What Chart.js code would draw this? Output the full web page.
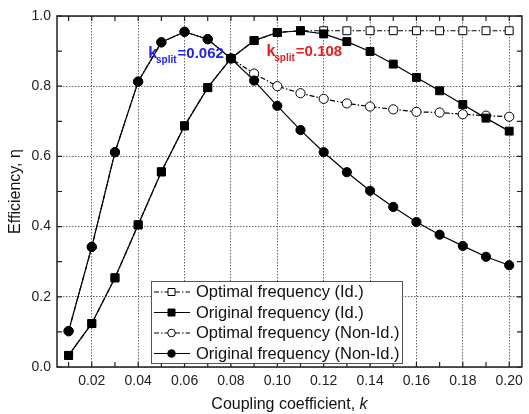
<!DOCTYPE html>
<html>
<head>
<meta charset="utf-8">
<script src="https://cdn.jsdelivr.net/npm/chart.js@4/dist/chart.umd.min.js"></script>
<style>
  html, body { margin: 0; padding: 0; background: #fff; }
  #wrap { width: 529px; height: 414px; }
</style>
</head>
<body>
<div id="wrap"><canvas id="chart" width="529" height="414"></canvas></div>
<script>
// Data
const kValues = [0.01, 0.02, 0.03, 0.04, 0.05, 0.06, 0.07, 0.08, 0.09, 0.10,
                 0.11, 0.12, 0.13, 0.14, 0.15, 0.16, 0.17, 0.18, 0.19, 0.20];
const origId = [0.033, 0.124, 0.254, 0.405, 0.556, 0.687, 0.796, 0.879, 0.930, 0.953,
                0.958, 0.949, 0.927, 0.899, 0.863, 0.825, 0.787, 0.748, 0.709, 0.672];
const optId = [0.033, 0.124, 0.254, 0.405, 0.556, 0.687, 0.796, 0.879, 0.930, 0.953,
               0.958, 0.958, 0.958, 0.958, 0.958, 0.958, 0.958, 0.958, 0.958, 0.958];
const origNonId = [0.102, 0.342, 0.612, 0.813, 0.925, 0.955, 0.934, 0.879, 0.816, 0.744,
                   0.675, 0.612, 0.555, 0.502, 0.456, 0.413, 0.377, 0.345, 0.314, 0.290];
const optNonId = [0.102, 0.342, 0.612, 0.813, 0.925, 0.955, 0.934, 0.879, 0.836, 0.800,
                  0.780, 0.764, 0.751, 0.742, 0.734, 0.727, 0.725, 0.720, 0.716, 0.713];

const legendLabels = ['Optimal frequency (Id.)', 'Original frequency (Id.)',
                      'Optimal frequency (Non-Id.)', 'Original frequency (Non-Id.)'];
const yTicks = [0, 0.1, 0.2, 0.3, 0.4, 0.5, 0.6, 0.7, 0.8, 0.9, 1.0];

const FONT = 'Arial, "Liberation Sans", sans-serif';
const dashDot = [5, 2, 1.5, 2];

function pts(ys) {
    return kValues.map((k, i) => ({ x: k, y: ys[i] }));
}

function series(label, ys, style, filled, dashed, order) {
    return {
        label: label,
        data: pts(ys),
        borderColor: '#000',
        borderWidth: 1.2,
        borderDash: dashed ? dashDot : [],
        pointStyle: style,
        pointRadius: style === 'rect' ? 5.6 : 4.6,
        pointBorderWidth: 1,
        pointBorderColor: '#000',
        pointBackgroundColor: filled ? '#000' : '#fff',
        tension: 0,
        order: order
    };
}

const datasets = [
    series(legendLabels[0], optId, 'rect', false, true, 3),
    series(legendLabels[1], origId, 'rect', true, false, 1),
    series(legendLabels[2], optNonId, 'circle', false, true, 2),
    series(legendLabels[3], origNonId, 'circle', true, false, 0)
];

function isMajorX(v) { return Math.round(v * 100) % 2 === 0; }
function isMajorY(v) { return Math.round(v * 10) % 2 === 0; }

// frame, inward ticks, titles, annotations and legend
const decor = {
    id: 'decor',
    afterDatasetsDraw(chart) {
        const ctx = chart.ctx;
        const a = chart.chartArea;
        const xs = chart.scales.x, ys = chart.scales.y;
        ctx.save();

        // frame
        ctx.strokeStyle = '#222';
        ctx.lineWidth = 1.5;
        ctx.strokeRect(a.left, a.top, a.right - a.left, a.bottom - a.top);

        // inward ticks
        ctx.lineWidth = 1.2;
        ctx.beginPath();
        kValues.forEach(v => {
            const px = xs.getPixelForValue(v);
            ctx.moveTo(px, a.bottom); ctx.lineTo(px, a.bottom - 5);
            ctx.moveTo(px, a.top); ctx.lineTo(px, a.top + 5);
        });
        yTicks.forEach(v => {
            const py = ys.getPixelForValue(v);
            ctx.moveTo(a.left, py); ctx.lineTo(a.left + 5, py);
            ctx.moveTo(a.right, py); ctx.lineTo(a.right - 5, py);
        });
        ctx.stroke();

        // axis titles
        ctx.fillStyle = '#111';
        ctx.textBaseline = 'middle';
        ctx.textAlign = 'left';
        const xt1 = 'Coupling coefficient, ';
        ctx.font = '16px ' + FONT;
        const w1 = ctx.measureText(xt1).width;
        ctx.font = 'italic 16px ' + FONT;
        const w2 = ctx.measureText('k').width;
        const cx = (a.left + a.right) / 2;
        let sx = cx - (w1 + w2) / 2;
        ctx.font = '16px ' + FONT;
        ctx.fillText(xt1, sx, 405);
        ctx.font = 'italic 16px ' + FONT;
        ctx.fillText('k', sx + w1, 405);

        ctx.save();
        ctx.translate(16, (a.top + a.bottom) / 2);
        ctx.rotate(-Math.PI / 2);
        ctx.textAlign = 'center';
        ctx.font = '16px ' + FONT;
        ctx.fillText('Efficiency, \u03b7', 0, 0);
        ctx.restore();

        // k_split annotations
        function kSplit(kx, ky, text, color) {
            const px = xs.getPixelForValue(kx);
            const py = ys.getPixelForValue(ky);
            ctx.fillStyle = color;
            ctx.textBaseline = 'alphabetic';
            ctx.textAlign = 'left';
            ctx.font = 'bold 16px ' + FONT;
            ctx.fillText('k', px, py);
            const kw = ctx.measureText('k').width;
            ctx.font = 'bold 10px ' + FONT;
            ctx.fillText('split', px + kw - 1, py + 5);
            const sw = ctx.measureText('split').width;
            ctx.font = 'bold 15px ' + FONT;
            ctx.fillText(text, px + kw + sw, py);
        }
        kSplit(0.0443, 0.879, '=0.062', '#2424e6');
        kSplit(0.0953, 0.885, '=0.108', '#e62020');

        // legend
        const bx = 151, by = 281, bw = 251, bh = 82;
        ctx.fillStyle = '#fff';
        ctx.fillRect(bx, by, bw, bh);
        ctx.strokeStyle = '#555';
        ctx.lineWidth = 1;
        ctx.strokeRect(bx + 0.5, by + 0.5, bw, bh);
        datasets.forEach((ds, i) => {
            const ry = by + 11 + i * 20.5;
            ctx.strokeStyle = '#000';
            ctx.lineWidth = 1.2;
            ctx.setLineDash(ds.borderDash);
            ctx.beginPath();
            ctx.moveTo(bx + 3, ry);
            ctx.lineTo(bx + 39, ry);
            ctx.stroke();
            ctx.setLineDash([]);
            ctx.fillStyle = ds.pointBackgroundColor;
            ctx.lineWidth = 1;
            ctx.beginPath();
            if (ds.pointStyle === 'rect') {
                ctx.rect(bx + 17, ry - 3.5, 7, 7);
            } else {
                ctx.arc(bx + 20.5, ry, 3.8, 0, Math.PI * 2);
            }
            ctx.fill();
            ctx.stroke();
            ctx.fillStyle = '#111';
            ctx.font = '16.5px ' + FONT;
            ctx.textBaseline = 'middle';
            ctx.fillText(ds.label, bx + 45, ry + 0.5);
        });

        ctx.restore();
    }
};

new Chart(document.getElementById('chart').getContext('2d'), {
    type: 'line',
    data: { datasets: datasets },
    options: {
        responsive: false,
        animation: false,
        layout: { padding: { top: 16, right: 1, left: 0, bottom: 0 } },
        plugins: { legend: { display: false }, tooltip: { enabled: false } },
        scales: {
            x: {
                type: 'linear',
                min: 0.005,
                max: 0.2055,
                afterBuildTicks: s => { s.ticks = kValues.map(v => ({ value: v })); },
                afterFit: s => { s.height = 47; },
                ticks: {
                    autoSkip: false,
                    maxRotation: 0,
                    padding: 6,
                    color: '#222',
                    font: { family: FONT, size: 14 },
                    callback: v => isMajorX(v) ? v.toFixed(2) : ''
                },
                grid: {
                    drawTicks: false,
                    lineWidth: 1,
                    color: c => (c.tick && isMajorX(c.tick.value)) ? '#666' : 'rgba(0,0,0,0)'
                },
                border: { display: false, dash: [1.5, 1.5] }
            },
            y: {
                type: 'linear',
                min: 0,
                max: 1,
                afterBuildTicks: s => { s.ticks = yTicks.map(v => ({ value: v })); },
                afterFit: s => { s.width = 57; },
                ticks: {
                    autoSkip: false,
                    padding: 6,
                    color: '#222',
                    font: { family: FONT, size: 14 },
                    callback: v => isMajorY(v) ? v.toFixed(1) : ''
                },
                grid: {
                    drawTicks: false,
                    lineWidth: 1,
                    color: c => (c.tick && isMajorY(c.tick.value)) ? '#666' : 'rgba(0,0,0,0)'
                },
                border: { display: false, dash: [1.5, 1.5] }
            }
        }
    },
    plugins: [decor]
});
</script>
</body>
</html>
